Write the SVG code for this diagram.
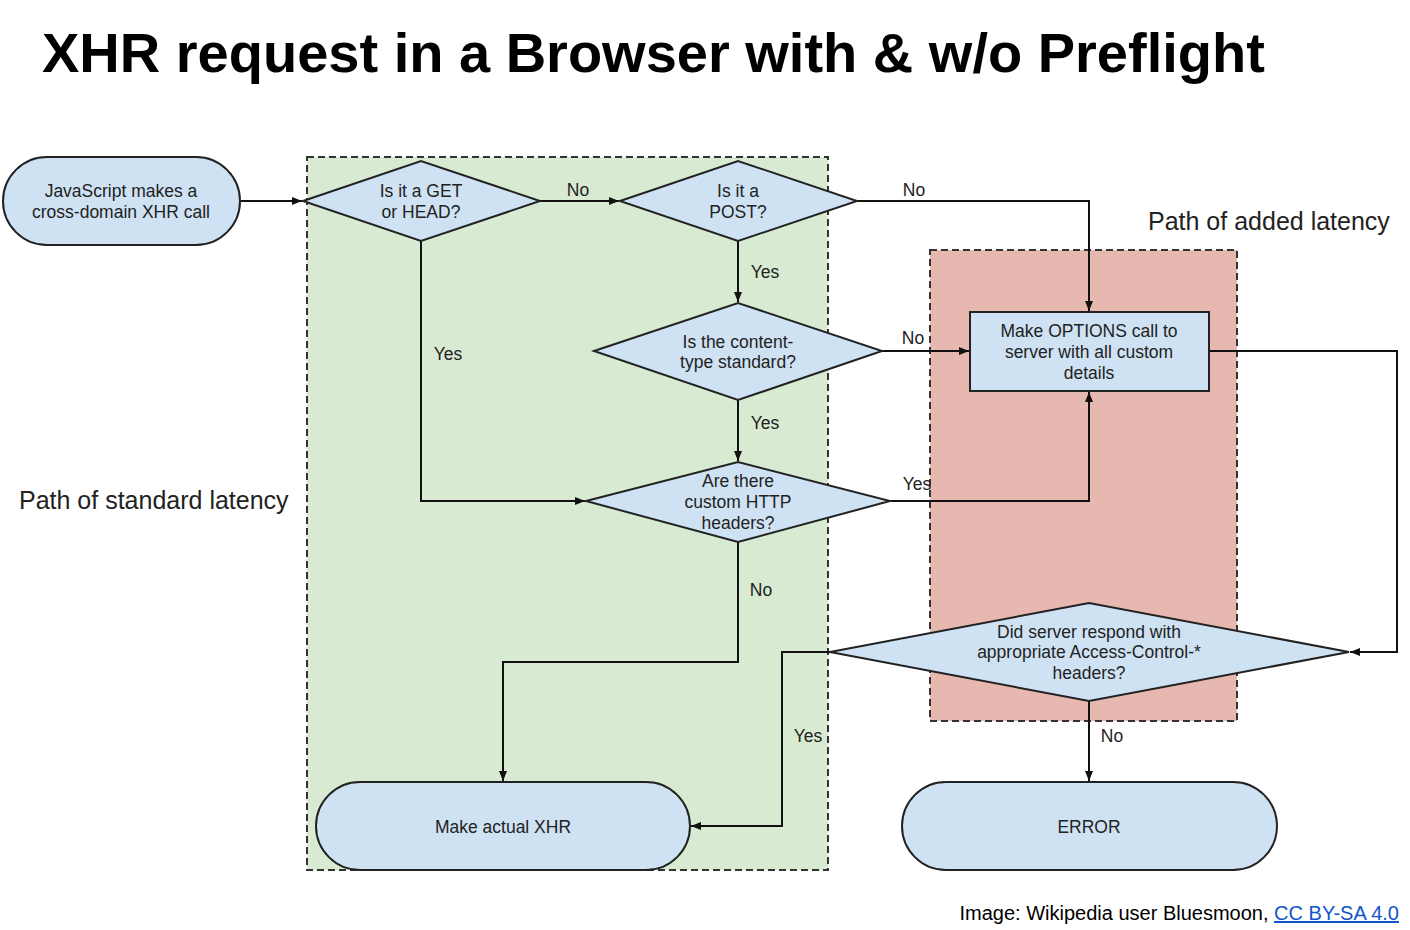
<svg xmlns="http://www.w3.org/2000/svg" width="1410" height="930" viewBox="0 0 1410 930">
<style>
text{font-family:"Liberation Sans",Arial,sans-serif;fill:#222}
.t{font-size:17.5px;text-anchor:middle}
.lbl{font-size:17.5px;text-anchor:middle}
.big{font-size:25px}
.node{fill:#cfe2f3;stroke:#222;stroke-width:2}
.edge{fill:none;stroke:#111;stroke-width:2}
.region{stroke:#333;stroke-width:2;stroke-dasharray:7 4}
</style>
<defs>
<marker id="ah" viewBox="0 0 10 10" refX="10" refY="5" markerWidth="10" markerHeight="10" markerUnits="userSpaceOnUse" orient="auto">
<path d="M0,1 L10,5 L0,9 Z" fill="#111"/>
</marker>
</defs>
<rect width="1410" height="930" fill="#fff"/>
<text x="42" y="72" style="font-size:56px;font-weight:bold;fill:#000">XHR request in a Browser with &amp; w/o Preflight</text>
<g id="regions">
<rect id="standard-region" class="region" x="307" y="157" width="521" height="713" fill="#d9ead3"/>
<rect id="added-region" class="region" x="930" y="250" width="307" height="471" fill="#e6b8af"/>
<text class="big" x="1148" y="230">Path of added latency</text>
<text class="big" x="19" y="509">Path of standard latency</text>
</g>
<g id="connectors">
<path class="edge" d="M240,201 H302" marker-end="url(#ah)"/>
<path class="edge" d="M540,201 H619" marker-end="url(#ah)"/>
<path class="edge" d="M857,201 H1089 V311" marker-end="url(#ah)"/>
<path class="edge" d="M738,241 V302" marker-end="url(#ah)"/>
<path class="edge" d="M882,351 H969" marker-end="url(#ah)"/>
<path class="edge" d="M738,400 V461" marker-end="url(#ah)"/>
<path class="edge" d="M421,241 V501 H585" marker-end="url(#ah)"/>
<path class="edge" d="M890,501 H1089 V392" marker-end="url(#ah)"/>
<path class="edge" d="M738,542 V662 H503 V781" marker-end="url(#ah)"/>
<path class="edge" d="M1209,351 H1397 V652 H1350" marker-end="url(#ah)"/>
<path class="edge" d="M830,652 H782 V826 H691" marker-end="url(#ah)"/>
<path class="edge" d="M1089,701 V781" marker-end="url(#ah)"/>
<text class="lbl" x="578" y="196">No</text>
<text class="lbl" x="914" y="196">No</text>
<text class="lbl" x="765" y="278">Yes</text>
<text class="lbl" x="913" y="344">No</text>
<text class="lbl" x="765" y="429">Yes</text>
<text class="lbl" x="448" y="360">Yes</text>
<text class="lbl" x="917" y="490">Yes</text>
<text class="lbl" x="761" y="596">No</text>
<text class="lbl" x="808" y="742">Yes</text>
<text class="lbl" x="1112" y="742">No</text>
</g>
<g id="start">
<rect class="node" x="3" y="157" width="237" height="88" rx="44"/>
<text class="t" x="121" y="197">JavaScript makes a</text>
<text class="t" x="121" y="218">cross-domain XHR call</text>
</g>
<g id="get-or-head">
<polygon class="node" points="303,201 421,161 540,201 421,241"/>
<text class="t" x="421" y="197">Is it a GET</text>
<text class="t" x="421" y="218">or HEAD?</text>
</g>
<g id="is-post">
<polygon class="node" points="620,201 738,161 857,201 738,241"/>
<text class="t" x="738" y="197">Is it a</text>
<text class="t" x="738" y="218">POST?</text>
</g>
<g id="content-type">
<polygon class="node" points="594,351 738,303 882,351 738,400"/>
<text class="t" x="738" y="348">Is the content-</text>
<text class="t" x="738" y="368">type standard?</text>
</g>
<g id="custom-headers">
<polygon class="node" points="586,501 738,462 890,501 738,542"/>
<text class="t" x="738" y="487">Are there</text>
<text class="t" x="738" y="508">custom HTTP</text>
<text class="t" x="738" y="529">headers?</text>
</g>
<g id="options-call">
<rect class="node" x="970" y="312" width="239" height="79"/>
<text class="t" x="1089" y="337">Make OPTIONS call to</text>
<text class="t" x="1089" y="358">server with all custom</text>
<text class="t" x="1089" y="379">details</text>
</g>
<g id="server-respond">
<polygon class="node" points="830,652 1089,603 1349,652 1089,701"/>
<text class="t" x="1089" y="638">Did server respond with</text>
<text class="t" x="1089" y="658">appropriate Access-Control-*</text>
<text class="t" x="1089" y="679">headers?</text>
</g>
<g id="actual-xhr">
<rect class="node" x="316" y="782" width="374" height="88" rx="44"/>
<text class="t" x="503" y="833">Make actual XHR</text>
</g>
<g id="error">
<rect class="node" x="902" y="782" width="375" height="88" rx="44"/>
<text class="t" x="1089" y="833">ERROR</text>
</g>
<text x="1399" y="920" style="font-size:20px;text-anchor:end;fill:#000">Image: Wikipedia user Bluesmoon, <tspan style="fill:#1155cc;text-decoration:underline">CC BY-SA 4.0</tspan></text>
</svg>
